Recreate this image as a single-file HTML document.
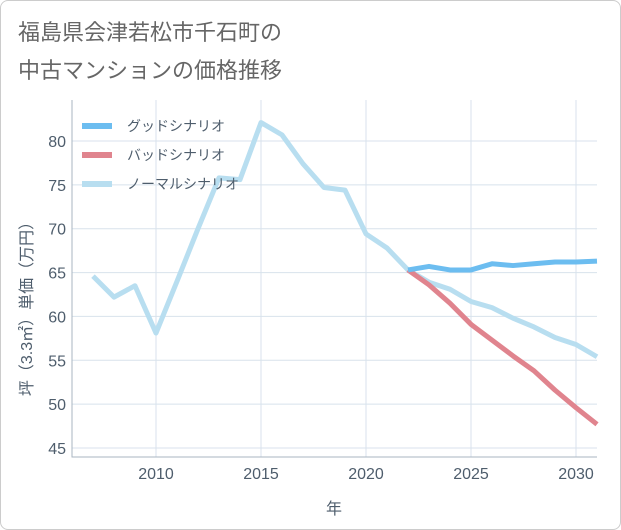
<!DOCTYPE html>
<html><head><meta charset="utf-8"><style>
body{margin:0;background:#fff;font-family:"Liberation Sans","Noto Sans CJK JP",sans-serif;}
</style></head><body>
<div style="position:relative;width:619px;height:528px;border:1px solid #ccc;border-radius:8px;background:#fff;">
<svg id="chart" width="621" height="530" style="position:absolute;left:-1px;top:-1px;font-family:'Liberation Sans','Noto Sans CJK JP',sans-serif;">
<text x="18" y="40" font-size="22" fill="#666">福島県会津若松市千石町の</text>
<text x="18" y="78" font-size="22" fill="#666">中古マンションの価格推移</text>
<g id="grid"></g><g id="axes"></g><g id="series"></g><g id="legend"></g>
</svg></div>
<script>
const years=[2007,2008,2009,2010,2011,2012,2013,2014,2015,2016,2017,2018,2019,2020,2021,2022,2023,2024,2025,2026,2027,2028,2029,2030,2031];
const normal=[64.6,62.2,63.5,58.1,64,70,75.8,75.6,82.1,80.7,77.4,74.7,74.4,69.4,67.8,65.3,63.9,63.1,61.7,61.0,59.8,58.8,57.6,56.8,55.4];
const goodYears=[2022,2023,2024,2025,2026,2027,2028,2029,2030,2031];
const good=[65.3,65.7,65.3,65.3,66.0,65.8,66.0,66.2,66.2,66.3];
const bad=[65.3,63.6,61.5,59.1,57.3,55.5,53.8,51.6,49.6,47.7];
const xTicks=[2010,2015,2020,2025,2030];
const yTicks=[45,50,55,60,65,70,75,80];
const L=72,R=597,T=100,B=457;
const x=v=>L+(v-2006)*(R-L)/25;
const y=v=>448-(v-45)*(448-141)/35;
const NS="http://www.w3.org/2000/svg";
const TXT='#4e5d6c';
function mk(tag,attrs,parent){const e=document.createElementNS(NS,tag);for(const k in attrs)e.setAttribute(k,attrs[k]);document.getElementById(parent).appendChild(e);return e;}
xTicks.forEach(t=>{const l=mk('line',{x1:x(t),x2:x(t),y1:T,y2:B,stroke:'#d8e2ec'},'grid');
const tx=mk('text',{x:x(t),y:479,'text-anchor':'middle','font-size':16,fill:TXT},'axes');tx.textContent=t;});
yTicks.forEach(t=>{const l=mk('line',{x1:L,x2:R,y1:y(t),y2:y(t),stroke:'#d8e2ec'},'grid');
const tx=mk('text',{x:66,y:y(t)+6,'text-anchor':'end','font-size':16,fill:TXT},'axes');tx.textContent=t;});
const ax=mk('path',{d:`M${L} ${T}V${B}H${R}`,stroke:'#a9b6c2',fill:'none'},'axes');
const xt=mk('text',{x:334,y:514,'text-anchor':'middle','font-size':16,fill:TXT},'axes');xt.textContent='年';
const yt=mk('text',{x:0,y:0,'text-anchor':'middle','font-size':16,fill:TXT,transform:'translate(32,305) rotate(-90)'},'axes');yt.textContent='坪（3.3㎡）単価（万円）';
function line(xs,vs,col,name){const d=xs.map((t,i)=>(i?'L':'M')+x(t)+' '+y(vs[i])).join('');const p=mk('path',{d:d,stroke:col,'stroke-width':5,fill:'none','stroke-linejoin':'round'},'series');}
line(years,normal,'#b8def0','normal-line');
line(goodYears,bad,'#e0848e','bad-line');
line(goodYears,good,'#6cbdf0','good-line');
[['グッドシナリオ','#6cbdf0','legend-good'],['バッドシナリオ','#e0848e','legend-bad'],['ノーマルシナリオ','#b8def0','legend-normal']].forEach((e,i)=>{const yy=126+i*29;
const l=mk('line',{x1:82,x2:112,y1:yy,y2:yy,stroke:e[1],'stroke-width':6},'legend');
const t=mk('text',{x:127,y:yy+5,'font-size':14,fill:TXT},'legend');t.textContent=e[0];});
</script></body></html>
